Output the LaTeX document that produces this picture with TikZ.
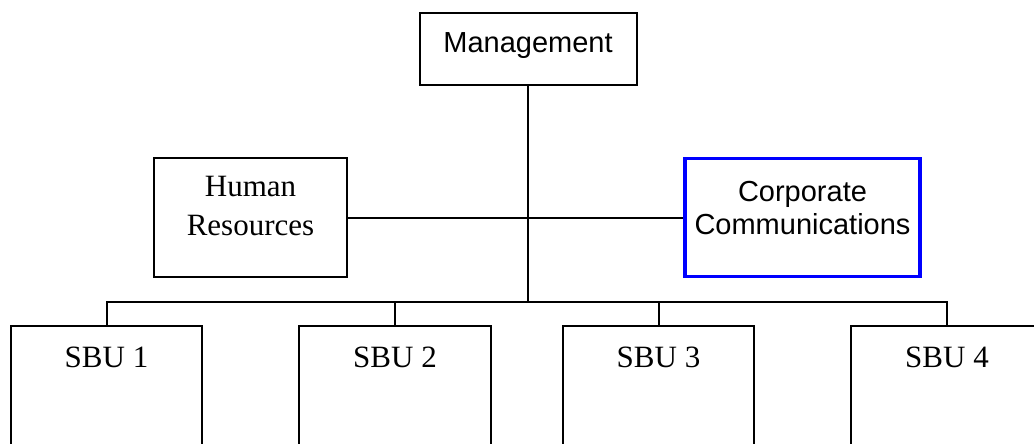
\documentclass[tikz,border=0pt]{standalone}
\usepackage{fontspec}
\setmainfont{Liberation Serif}
\newfontfamily\arialfont{Liberation Sans}

\begin{document}
\begin{tikzpicture}[x=1pt,y=-1pt]

\tikzset{orgbox/.style={draw, line width=2pt, inner sep=0pt, align=center},
         serifbox/.style={orgbox, font=\fontsize{31}{38.5}\selectfont},
         sansbox/.style={orgbox, font=\arialfont\fontsize{29}{33}\selectfont},
         orgline/.style={line width=2pt}}

    % Page frame
    \useasboundingbox (0,0) rectangle (1034,444);
    \clip (0,0) rectangle (1034,444);

    \def\boxW{191.5pt} % Width of the unit boxes
    \def\busY{302} % Height of the bus line

    % Top box
    \node[sansbox, minimum width=217pt, text height=40pt, text depth=32pt]
    (mgmt) at (528,49) {Management};

    % Staff boxes
    \node[serifbox, minimum width=193pt, text height=77pt, text depth=42pt]
    (hr) at (250.5,217.5) {Human\\Resources};
    \node[sansbox, draw=blue, line width=3.8pt, minimum width=235.5pt,
    text height=75.5pt, text depth=42.5pt] (cc) at (802.5,217.5)
    {Corporate\\Communications};

    % Business units
    \foreach \i/\x in {1/106.5, 2/395, 3/658.5, 4/947} {
      \node[serifbox, minimum width=\boxW, text height=41pt, text depth=100pt]
      (sbu\i) at (\x,396.5) {SBU \i};
    }

    % Connectors
    \coordinate (bus) at (528,\busY);
    \draw[orgline] (mgmt) -- (bus);
    \draw[orgline] (hr) -- (cc);
    \draw[orgline] (sbu1.north) -- (sbu1.north |- bus) -- (sbu4.north |- bus)
    -- (sbu4.north);
    \foreach \i in {2,3} \draw[orgline] (sbu\i.north) -- (sbu\i.north |- bus);

\end{tikzpicture}
\end{document}
